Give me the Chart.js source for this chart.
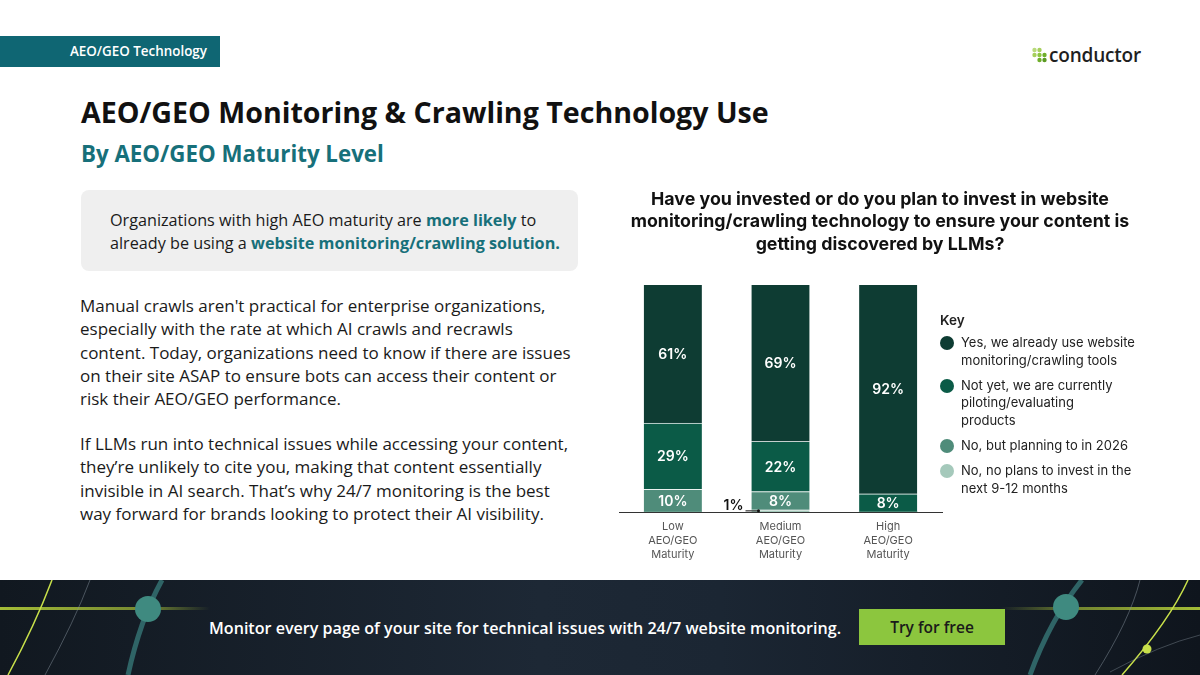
<!DOCTYPE html>
<html>
<head>
<meta charset="utf-8">
<script src="https://cdn.jsdelivr.net/npm/chart.js"></script>
<style>
  body { margin: 0; width: 1200px; height: 675px; position: relative; overflow: hidden; background: #fff; font-family: "Open Sans", sans-serif; color: #1a1a1a; }
  .tag { position: absolute; left: 0; top: 36px; width: 220px; height: 31px; background: #0f6673; color: #fff; font-weight: 600; font-size: 13.4px; line-height: 31px; padding-left: 70px; box-sizing: border-box; }
  .logo { position: absolute; left: 1032px; top: 42px; display: flex; align-items: center; }
  .logo span { font-family: "Open Sans", sans-serif; font-weight: 600; font-size: 19px; color: #1f1f1f; margin-left: 2px; letter-spacing: -0.2px; }
  h1 { position: absolute; left: 81px; top: 93px; margin: 0; font-size: 28.6px; font-weight: 700; color: #111; line-height: 38px; }
  h2 { position: absolute; left: 81px; top: 140px; margin: 0; font-size: 22.3px; font-weight: 700; color: #17707a; line-height: 28px; }
  .callout { position: absolute; left: 81px; top: 190px; width: 497px; height: 81px; background: #efefef; border-radius: 8px; box-sizing: border-box; padding: 19px 0 0 29px; font-size: 16.2px; line-height: 23px; color: #1a1a1a; }
  .callout b { color: #17707a; font-weight: 700; }
  .body { position: absolute; left: 80px; font-size: 17px; line-height: 23.3px; color: #1a1a1a; margin: 0; }
  #chartBox { position: absolute; left: 600px; top: 180px; width: 560px; height: 386px; }
  .legend { position: absolute; left: 940px; top: 312px; font-family: Inter, sans-serif; color: #222; }
  .legend .key { font-weight: 600; font-size: 13.5px; margin-bottom: 6px; }
  .legend .item { display: flex; font-size: 13px; line-height: 17.5px; margin-bottom: 7.8px; }
  .legend .dot { width: 14px; height: 14px; border-radius: 50%; flex: none; margin: 2px 7px 0 0; }
  .footer { position: absolute; left: 0; top: 580px; width: 1200px; height: 95px; background: linear-gradient(90deg, #111820 0%, #1d2835 45%, #1b2633 60%, #0f151d 100%); }
  .footer svg { position: absolute; left: 0; top: 0; }
  .cta { position: absolute; left: 209px; top: 617px; font-size: 16.1px; font-weight: 600; color: #fff; line-height: 22px; }
  .btn { position: absolute; left: 859px; top: 609px; width: 146px; height: 36px; background: #8cc63e; color: #1a1a1a; font-weight: 600; font-size: 15.5px; line-height: 36px; text-align: center; }
</style>
</head>
<body>
<div class="tag">AEO/GEO Technology</div>
<div class="logo">
  <svg width="15" height="16" viewBox="0 0 15 16">
    <circle cx="2.5" cy="3" r="2.2" fill="#b9da7c"/><circle cx="7.5" cy="3" r="2.2" fill="#a6cf5c"/>
    <circle cx="2.5" cy="8" r="2.2" fill="#a6cf5c"/><circle cx="7.5" cy="8" r="2.2" fill="#8cc63e"/><circle cx="12.5" cy="8" r="2.2" fill="#6fae2a"/>
    <circle cx="7.5" cy="13" r="2.2" fill="#6fae2a"/><circle cx="12.5" cy="13" r="2.2" fill="#5a9a22"/>
  </svg>
  <span>conductor</span>
</div>
<h1>AEO/GEO Monitoring &amp; Crawling Technology Use</h1>
<h2>By AEO/GEO Maturity Level</h2>
<div class="callout">Organizations with high AEO maturity are <b>more likely</b> to<br>already be using a <b>website monitoring/crawling solution.</b></div>
<p class="body" style="top:294px">Manual crawls aren't practical for enterprise organizations,<br>especially with the rate at which AI crawls and recrawls<br>content. Today, organizations need to know if there are issues<br>on their site ASAP to ensure bots can access their content or<br>risk their AEO/GEO performance.</p>
<p class="body" style="top:432px">If LLMs run into technical issues while accessing your content,<br>they’re unlikely to cite you, making that content essentially<br>invisible in AI search. That’s why 24/7 monitoring is the best<br>way forward for brands looking to protect their AI visibility.</p>

<div id="chartBox"><canvas id="chart"></canvas></div>
<div class="legend" id="legend"><div class="key">Key</div></div>

<div class="footer">
  <svg width="1200" height="95" viewBox="0 0 1200 95">
    <defs>
      <linearGradient id="fadeL" x1="0" x2="1"><stop offset="0" stop-color="#b5cf3a" stop-opacity="0.9"/><stop offset="0.7" stop-color="#b5cf3a" stop-opacity="0.6"/><stop offset="1" stop-color="#b5cf3a" stop-opacity="0"/></linearGradient>
      <linearGradient id="fadeR" x1="1" x2="0"><stop offset="0" stop-color="#b5cf3a" stop-opacity="0.9"/><stop offset="0.6" stop-color="#b5cf3a" stop-opacity="0.6"/><stop offset="1" stop-color="#b5cf3a" stop-opacity="0"/></linearGradient>
    </defs>
    <rect x="0" y="27" width="210" height="3" fill="url(#fadeL)"/>
    <path d="M8 95 Q35 45 52 0" stroke="#c8e04a" stroke-width="1.5" fill="none"/>
    <path d="M45 95 Q75 40 90 0" stroke="#8a96a0" stroke-width="0.8" fill="none" opacity="0.6"/>
    <path d="M128 95 Q140 40 162 0" stroke="#2f6466" stroke-width="5" fill="none"/>
    <circle cx="148" cy="29" r="13" fill="#3f8a80"/>
    <rect x="1000" y="27" width="200" height="3" fill="url(#fadeR)"/>
    <path d="M1030 95 Q1050 40 1082 0" stroke="#2f6466" stroke-width="5" fill="none"/>
    <path d="M1095 95 Q1130 40 1140 0" stroke="#8a96a0" stroke-width="0.8" fill="none" opacity="0.6"/>
    <path d="M1122 95 Q1170 40 1188 0" stroke="#c8e04a" stroke-width="1.5" fill="none"/>
    <path d="M1110 92 Q1160 65 1200 55" stroke="#8a96a0" stroke-width="0.8" fill="none" opacity="0.5"/>
    <circle cx="1066" cy="27" r="13" fill="#3f8a80"/>
    <circle cx="1147" cy="69" r="4.5" fill="#c8e04a"/>
  </svg>
</div>
<div class="cta">Monitor every page of your site for technical issues with 24/7 website monitoring.</div>
<div class="btn">Try for free</div>

<script>
// categories and series (bottom of stack first)
const categories = [['Low', 'AEO/GEO', 'Maturity'], ['Medium', 'AEO/GEO', 'Maturity'], ['High', 'AEO/GEO', 'Maturity']];
const noPlans = [0, 1, 0];
const planning2026 = [10, 8, 0];
const piloting = [29, 22, 8];
const alreadyUsing = [61, 69, 92];
const seriesNames = ['No, no plans to invest in the next 9-12 months', 'No, but planning to in 2026', 'Not yet, we are currently piloting/evaluating products', 'Yes, we already use website monitoring/crawling tools'];
const legendLines = [['No, no plans to invest in the', 'next 9-12 months'], ['No, but planning to in 2026'], ['Not yet, we are currently', 'piloting/evaluating', 'products'], ['Yes, we already use website', 'monitoring/crawling tools']];
const seriesColors = ['#a5c9bb', '#4f8c7a', '#0b5b47', '#0e3c33'];
const chartTitle = ['Have you invested or do you plan to invest in website', 'monitoring/crawling technology to ensure your content is', 'getting discovered by LLMs?'];

const seriesData = [noPlans, planning2026, piloting, alreadyUsing];

// legend, top series first
let legend = document.getElementById('legend');
for (let i = seriesNames.length - 1; i >= 0; i--) {
    let item = document.createElement('div');
    item.className = 'item';
    item.innerHTML = '<div class="dot" style="background:' + seriesColors[i] + '"></div><div>' + legendLines[i].join('<br>') + '</div>';
    legend.appendChild(item);
}

const valueLabels = {
    id: 'valueLabels',
    afterDatasetsDraw(chart) {
        let ctx = chart.ctx;
        ctx.save();
        ctx.font = '600 14px Inter';
        ctx.textBaseline = 'middle';
        chart.data.datasets.forEach((ds, di) => {
            let meta = chart.getDatasetMeta(di);
            meta.data.forEach((bar, i) => {
                let v = ds.data[i];
                if (!v) return;
                let cy = (bar.y + bar.base) / 2;
                if (v >= 3) {
                    ctx.fillStyle = '#fff';
                    ctx.textAlign = 'center';
                    ctx.fillText(v + '%', bar.x, cy + 1);
                } else {
                    // small slice: label outside with a leader line
                    let left = bar.x - bar.width / 2;
                    ctx.fillStyle = '#111';
                    ctx.textAlign = 'right';
                    ctx.fillText(v + '%', left - 8, cy - 5);
                    ctx.strokeStyle = '#111';
                    ctx.lineWidth = 1;
                    ctx.beginPath();
                    ctx.moveTo(left - 6, cy);
                    ctx.lineTo(left + 7, cy);
                    ctx.stroke();
                    ctx.beginPath();
                    ctx.arc(left + 7, cy, 1.5, 0, Math.PI * 2);
                    ctx.fillStyle = '#111';
                    ctx.fill();
                }
            });
        });
        ctx.restore();
    }
};

// hidden side axes only reserve room (left gap, legend column on the right)
function spacer(w) {
    return {
        display: true,
        grid: { display: false },
        border: { display: false },
        ticks: { display: false },
        afterFit(scale) { scale.width = w; }
    };
}

new Chart(document.getElementById('chart'), {
    type: 'bar',
    data: {
        labels: categories,
        datasets: seriesData.map((d, i) => ({
            label: seriesNames[i],
            data: d,
            backgroundColor: seriesColors[i],
            borderColor: 'rgba(255,255,255,0.35)',
            borderWidth: { top: 1, left: 0, right: 0, bottom: 0 },
            borderSkipped: false,
            barThickness: 58,
        }))
    },
    options: {
        responsive: true,
        maintainAspectRatio: false,
        animation: false,
        layout: { padding: { bottom: 4 } },
        plugins: {
            legend: { display: false },
            tooltip: { enabled: false },
            title: {
                display: true,
                text: chartTitle,
                color: '#111',
                font: { family: 'Inter', size: 17.8, weight: '700', lineHeight: 1.24 },
                padding: { top: 9, bottom: 29 }
            }
        },
        scales: {
            x: {
                stacked: true,
                grid: { display: false },
                border: { display: true, color: '#333', width: 1 },
                ticks: { color: '#555', padding: 0, font: { family: 'Inter', size: 11, lineHeight: '14px' } }
            },
            y: { stacked: true, display: false, min: 0, max: 100 },
            padLeft: Object.assign({ type: 'linear', position: 'left' }, spacer(19)),
            padRight: Object.assign({ type: 'linear', position: 'right' }, spacer(218))
        }
    },
    plugins: [valueLabels]
});
</script>
</body>
</html>
